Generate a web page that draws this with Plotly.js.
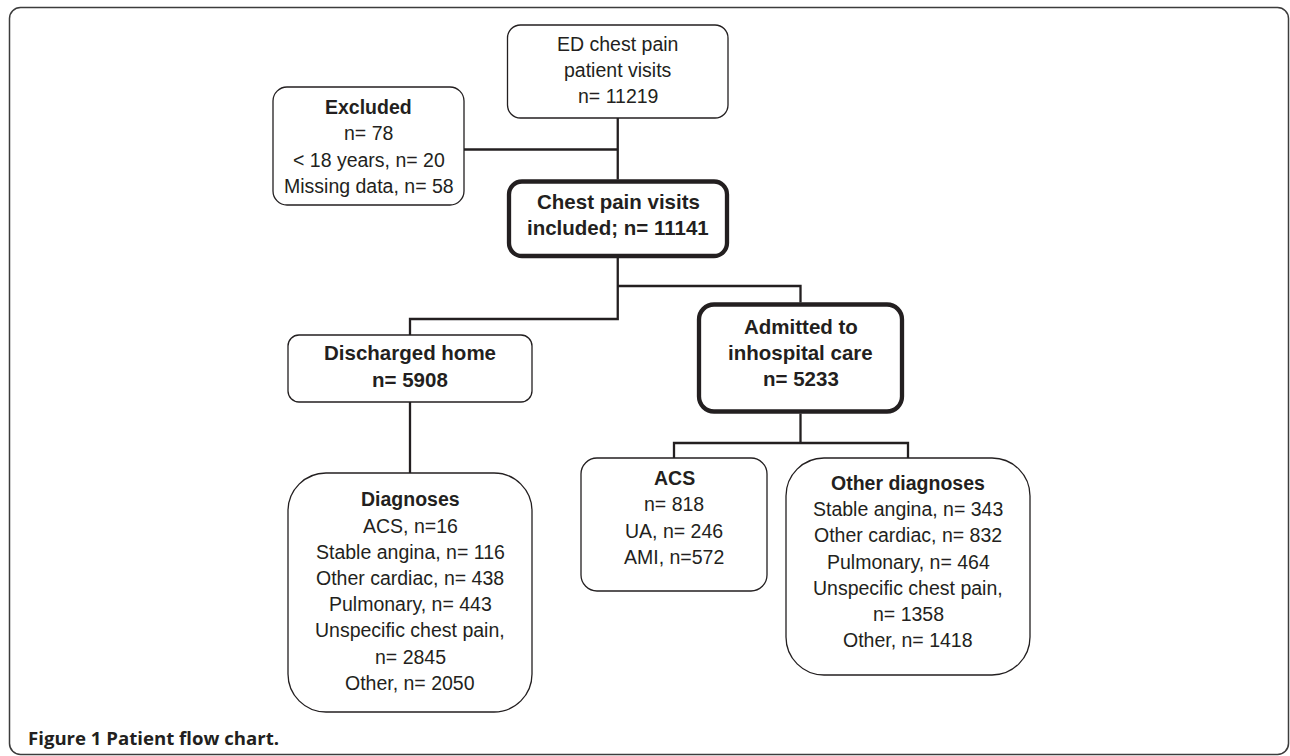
<!DOCTYPE html>
<html>
<head>
<meta charset="utf-8">
<script src="https://cdn.plot.ly/plotly-3.0.1.min.js"></script>
<style>
html,body{margin:0;padding:0;background:#ffffff;overflow:hidden;}
#chart{width:1290px;height:756px;}
</style>
</head>
<body>
<div id="chart"></div>
<script>
// ---------------- DATA (text content of the flow chart) ----------------
const stageNames  = ['ED chest pain\npatient visits', 'Excluded', 'Chest pain visits\nincluded;', 'Discharged home', 'Admitted to\ninhospital care', 'ACS', 'Diagnoses', 'Other diagnoses'];
const stageCounts = [11219, 78, 11141, 5908, 5233, 818, null, null];
const stageCountJoin = ['\n', '\n', ' ', '\n', '\n', '\n', '', ''];

const excludedReasons = ['< 18 years', 'Missing data'];
const excludedCounts  = [20, 58];

const acsSubtypes     = ['UA', 'AMI'];
const acsSubtypeCounts = [246, 572];
const acsSubtypeSep   = [' ', ''];

const dischargedDiagnoses = ['ACS', 'Stable angina', 'Other cardiac', 'Pulmonary', 'Unspecific chest pain', 'Other'];
const dischargedCounts    = [16, 116, 438, 443, 2845, 2050];
const dischargedSep       = ['', ' ', ' ', ' ', ' ', ' '];

const admittedDiagnoses = ['Stable angina', 'Other cardiac', 'Pulmonary', 'Unspecific chest pain', 'Other'];
const admittedCounts    = [343, 832, 464, 1358, 1418];
const admittedSep       = [' ', ' ', ' ', ' ', ' '];

const captionLabel = 'Figure 1 Patient flow chart.';

// ---------------- helpers ----------------
function esc(s){ return s.replace(/&/g,'&amp;').replace(/</g,'&lt;').replace(/>/g,'&gt;'); }
function countLine(label, n, sep){
  const wrap = label.length > 18 ? '\n' : ' ';
  return label + ',' + wrap + 'n=' + sep + n;
}
function stageText(i){
  let t = stageNames[i];
  if (stageCounts[i] !== null) t += stageCountJoin[i] + 'n= ' + stageCounts[i];
  return t;
}
function splitLines(t){ return t.split('\n'); }

// ---------------- LAYOUT (geometry & styles) ----------------
const INK = '#231f20';
const boxes = {
  ed:   {x0:507.5, x1:728,   y0:25,    y1:118,   r:13, w:1.3, ty:70,    bold:false, size:19.5},
  exc:  {x0:273,   x1:464,   y0:87,    y1:205,   r:14, w:1.3, ty:146.5, bold:false, size:19.5},
  inc:  {x0:509,   x1:727,   y0:181.5, y1:256,   r:13, w:4.3, ty:214.5, bold:true,  size:20.5},
  dis:  {x0:288,   x1:532,   y0:335,   y1:402,   r:11, w:1.3, ty:366,   bold:true,  size:20.5},
  adm:  {x0:699,   x1:902,   y0:304.5, y1:411.5, r:15, w:4.3, ty:352.5, bold:true,  size:20.5},
  dia:  {x0:288,   x1:532,   y0:473,   y1:712,   r:38, w:1.3, ty:591,   bold:false, size:19.5},
  acs:  {x0:581,   x1:767,   y0:458,   y1:591,   r:16, w:1.3, ty:517.5, bold:false, size:19.5},
  oth:  {x0:786,   x1:1030,  y0:458,   y1:675,   r:38, w:1.3, ty:561.5, bold:false, size:19.5}
};
const LINE_GAP = 26.2;

// text per box built from data
const boxLines = {
  ed:  splitLines(stageText(0)).map(s => ({t:s})),
  exc: [{t:stageNames[1], b:true}, {t:'n= ' + stageCounts[1]}]
        .concat(excludedReasons.map((r,i) => ({t: r + ', n= ' + excludedCounts[i]}))),
  inc: splitLines(stageText(2)).map(s => ({t:s})),
  dis: splitLines(stageText(3)).map(s => ({t:s})),
  adm: splitLines(stageText(4)).map(s => ({t:s})),
  dia: [{t:stageNames[6], b:true}]
        .concat(dischargedDiagnoses.flatMap((d,i) => splitLines(countLine(d, dischargedCounts[i], dischargedSep[i])).map(s => ({t:s})))),
  acs: [{t:stageNames[5], b:true}, {t:'n= ' + stageCounts[5]}]
        .concat(acsSubtypes.map((a,i) => ({t: a + ', n=' + acsSubtypeSep[i] + acsSubtypeCounts[i]}))),
  oth: [{t:stageNames[7], b:true}]
        .concat(admittedDiagnoses.flatMap((d,i) => splitLines(countLine(d, admittedCounts[i], admittedSep[i])).map(s => ({t:s}))))
};

function roundRect(x0,y0,x1,y1,r){
  const k = 0.5523*r;
  return `M${x0+r},${y0} L${x1-r},${y0} C${x1-r+k},${y0} ${x1},${y0+r-k} ${x1},${y0+r} ` +
         `L${x1},${y1-r} C${x1},${y1-r+k} ${x1-r+k},${y1} ${x1-r},${y1} ` +
         `L${x0+r},${y1} C${x0+r-k},${y1} ${x0},${y1-r+k} ${x0},${y1-r} ` +
         `L${x0},${y0+r} C${x0},${y0+r-k} ${x0+r-k},${y0} ${x0+r},${y0} Z`;
}

const shapes = [];
const annotations = [];

// outer frame
shapes.push({type:'path', xref:'x', yref:'y', path: roundRect(9.5, 7.5, 1288.5, 754.5, 11),
             line:{color:'#3c3c3c', width:1.5}, fillcolor:'rgba(0,0,0,0)', layer:'above'});

Object.keys(boxes).forEach(k => {
  const b = boxes[k];
  shapes.push({type:'path', xref:'x', yref:'y', path: roundRect(b.x0,b.y0,b.x1,b.y1,b.r),
               line:{color:INK, width:b.w}, fillcolor:'rgba(0,0,0,0)', layer:'above'});
  const lines = boxLines[k];
  const cx = (b.x0 + b.x1) / 2;
  const n = lines.length;
  lines.forEach((ln, i) => {
    const bold = b.bold || ln.b;
    annotations.push({
      x: cx, y: b.ty + (i - (n-1)/2) * LINE_GAP, xref:'x', yref:'y',
      text: bold ? '<b>' + esc(ln.t) + '</b>' : esc(ln.t),
      showarrow:false, xanchor:'center', yanchor:'middle',
      font:{family:'Liberation Sans, Arial, Helvetica, sans-serif', size:b.size, color:INK}
    });
  });
});

// caption
annotations.push({x:26, y:737, xref:'x', yref:'y', xanchor:'left', yanchor:'middle', showarrow:false,
  text:'<b>' + esc(captionLabel) + '</b>',
  font:{family:'Open Sans, Noto Sans, sans-serif', size:18.6, stretch:'semi-condensed', color:INK}});

// connectors derived from box geometry
const B = boxes;
const cxOf = b => (b.x0 + b.x1) / 2;
const trunkX = 617.75;
const splitY1 = 286, splitY2 = 319, excY = 149.5, admSplitY = 443;
const cx = [], cy = [];
function seg(pts){ pts.forEach(p => { cx.push(p[0]); cy.push(p[1]); }); cx.push(null); cy.push(null); }
seg([[trunkX, B.ed.y1], [trunkX, B.inc.y0 - 2]]);
seg([[B.exc.x1, excY], [trunkX, excY]]);
seg([[trunkX, B.inc.y1 + 2], [trunkX, splitY2], [cxOf(B.dis), splitY2], [cxOf(B.dis), B.dis.y0]]);
seg([[trunkX, splitY1], [cxOf(B.adm), splitY1], [cxOf(B.adm), B.adm.y0 - 2]]);
seg([[cxOf(B.dis), B.dis.y1], [cxOf(B.dis), B.dia.y0]]);
seg([[cxOf(B.adm), B.adm.y1 + 2], [cxOf(B.adm), admSplitY]]);
seg([[cxOf(B.acs), B.acs.y0], [cxOf(B.acs), admSplitY], [cxOf(B.oth), admSplitY], [cxOf(B.oth), B.oth.y0]]);

const traces = [{
  type:'scatter', mode:'lines', x:cx, y:cy, hoverinfo:'skip', showlegend:false,
  line:{color:INK, width:2.3}
}];

const layout = {
  width:1290, height:756,
  margin:{l:0, r:0, t:0, b:0, pad:0},
  paper_bgcolor:'#ffffff', plot_bgcolor:'#ffffff',
  xaxis:{range:[0,1290], visible:false, fixedrange:true},
  yaxis:{range:[756,0], visible:false, fixedrange:true},
  shapes: shapes,
  annotations: annotations,
  showlegend:false
};

Plotly.newPlot('chart', traces, layout, {staticPlot:true, displayModeBar:false});
</script>
</body>
</html>
